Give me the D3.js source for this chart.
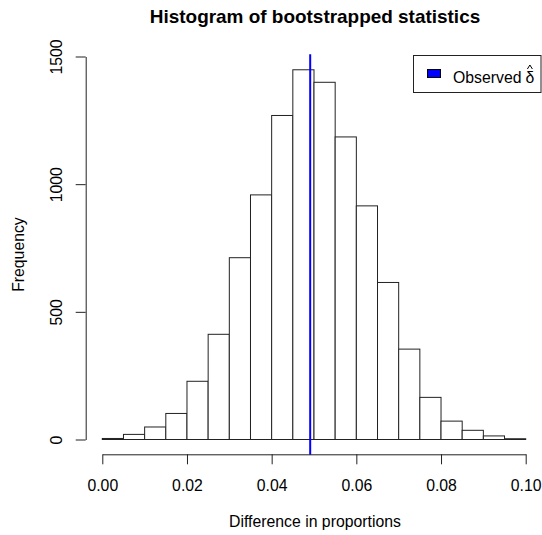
<!DOCTYPE html>
<html>
<head>
<meta charset="utf-8">
<script src="https://cdn.jsdelivr.net/npm/d3@7"></script>
<style>
  html, body { margin: 0; padding: 0; background: #fff; }
  svg { display: block; }
  text { font-family: "Liberation Sans", Arial, Helvetica, sans-serif; fill: #000; }
</style>
</head>
<body>
<svg id="chart" width="542" height="535"></svg>
<script>
// ---- data ----
const binStarts = [0.000, 0.005, 0.010, 0.015, 0.020, 0.025, 0.030, 0.035, 0.040, 0.045,
                   0.050, 0.055, 0.060, 0.065, 0.070, 0.075, 0.080, 0.085, 0.090, 0.095];
const binWidth = 0.005;
const counts = [4, 20, 49, 102, 228, 412, 712, 958, 1269, 1448,
                1399, 1185, 915, 615, 354, 165, 72, 36, 14, 3];
const observed = 0.0491;
const xTicks = [0.00, 0.02, 0.04, 0.06, 0.08, 0.10];
const xTickLabels = ["0.00", "0.02", "0.04", "0.06", "0.08", "0.10"];
const yTicks = [0, 500, 1000, 1500];
const yTickLabels = ["0", "500", "1000", "1500"];
const titleText = "Histogram of bootstrapped statistics";
const xLabel = "Difference in proportions";
const yLabel = "Frequency";
const legendLabel = "Observed";
const legendSymbol = "\u03B4";

// ---- layout ----
const svg = d3.select("#chart");
const baseFont = 15.8;
const x = d3.scaleLinear().domain([0, 0.1]).range([102.3, 525.7]);
const y = d3.scaleLinear().domain([0, 1500]).range([439.5, 56.5]);
const plotTop = 54.3, plotBottom = 454.8;
const lineColor = "#222";

// bars
svg.append("g").selectAll("rect")
  .data(counts)
  .join("rect")
  .attr("x", (d, i) => x(binStarts[i]))
  .attr("width", (d, i) => x(binStarts[i] + binWidth) - x(binStarts[i]))
  .attr("y", d => y(d))
  .attr("height", d => y(0) - y(d))
  .attr("fill", "#fff")
  .attr("stroke", lineColor)
  .attr("stroke-width", 1);

// observed line
svg.append("line")
  .attr("x1", x(observed)).attr("x2", x(observed))
  .attr("y1", plotTop).attr("y2", plotBottom)
  .attr("stroke", "#0000ff")
  .attr("stroke-width", 2);

// x axis
const xAxis = d3.axisBottom(x)
  .tickValues(xTicks)
  .tickFormat((d, i) => xTickLabels[i])
  .tickSize(10)
  .tickSizeOuter(0);
const gx = svg.append("g").attr("transform", "translate(0,454.3)").call(xAxis);
gx.selectAll("path, line").attr("stroke", lineColor);
gx.selectAll("text")
  .attr("font-size", baseFont)
  .attr("font-family", null)
  .attr("y", 36.7)
  .attr("dy", null);

// y axis
const yAxis = d3.axisLeft(y)
  .tickValues(yTicks)
  .tickFormat((d, i) => yTickLabels[i])
  .tickSize(10)
  .tickSizeOuter(0);
const gy = svg.append("g").attr("transform", "translate(85.7,0)").call(yAxis);
gy.selectAll("path, line").attr("stroke", lineColor);
gy.selectAll("text")
  .attr("font-size", baseFont)
  .attr("font-family", null)
  .attr("x", null).attr("dy", null)
  .attr("text-anchor", "middle")
  .attr("transform", "translate(-24,0) rotate(-90)");

// title
svg.append("text")
  .attr("x", 315).attr("y", 23)
  .attr("text-anchor", "middle")
  .attr("font-size", baseFont * 1.2)
  .attr("font-weight", "bold")
  .text(titleText);

// x label
svg.append("text")
  .attr("x", (x(0) + x(0.1)) / 2 + 1).attr("y", 527)
  .attr("text-anchor", "middle")
  .attr("font-size", baseFont)
  .text(xLabel);

// y label
svg.append("text")
  .attr("transform", `translate(24,${(plotTop + plotBottom) / 2}) rotate(-90)`)
  .attr("text-anchor", "middle")
  .attr("font-size", baseFont)
  .text(yLabel);

// legend
const lg = svg.append("g");
lg.append("rect")
  .attr("x", 413.5).attr("y", 55.5)
  .attr("width", 127.5).attr("height", 37)
  .attr("fill", "#fff")
  .attr("stroke", lineColor)
  .attr("stroke-width", 1);
lg.append("rect")
  .attr("x", 427.5).attr("y", 69.5)
  .attr("width", 13).attr("height", 8)
  .attr("fill", "#0000ff")
  .attr("stroke", "#000")
  .attr("stroke-width", 1);
const lt = lg.append("text")
  .attr("x", 453).attr("y", 83)
  .attr("font-size", baseFont)
  .text(legendLabel);
const ltw = lt.node().getComputedTextLength();
const dx0 = 453 + ltw + 4;
const dt = lg.append("text")
  .attr("x", dx0).attr("y", 83)
  .attr("font-size", baseFont)
  .text(legendSymbol);
const dw = dt.node().getComputedTextLength();
// hat over delta (drawn as a small chevron)
lg.append("path")
  .attr("d", `M${dx0 + dw / 2 - 2.5},${69} L${dx0 + dw / 2},${65} L${dx0 + dw / 2 + 2.5},${69}`)
  .attr("fill", "none")
  .attr("stroke", "#000")
  .attr("stroke-width", 1);
</script>
</body>
</html>
